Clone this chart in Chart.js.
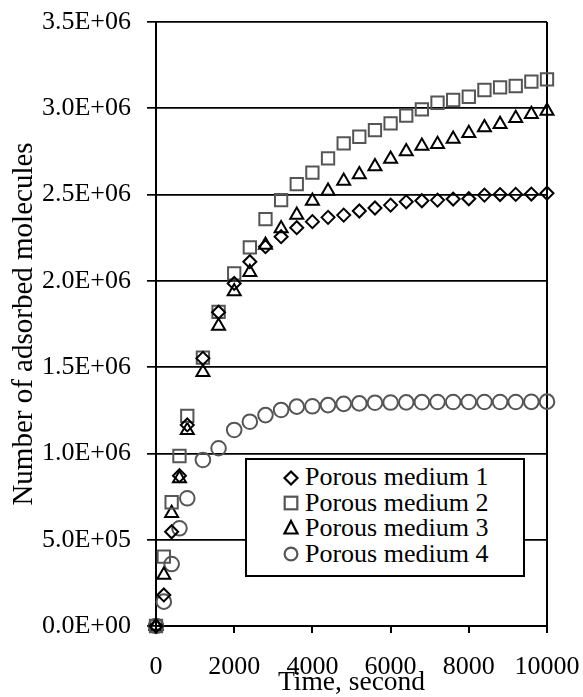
<!DOCTYPE html>
<html>
<head>
<meta charset="utf-8">
<script src="https://cdn.jsdelivr.net/npm/chart.js@4"></script>
<style>
  html, body { margin: 0; padding: 0; background: #fff; }
  #wrap { position: relative; width: 583px; height: 697px; }
  #c { position: absolute; left: 0; top: 0; }
  #legend { position: absolute; left: 245px; top: 458px; width: 280px; height: 119px;
            box-sizing: border-box; border: 2px solid #000; background: #fff; }
  .lg-text { position: absolute; left: 58px; font-family: "Liberation Serif", "Times New Roman", serif;
             font-size: 26px; line-height: 26px; white-space: nowrap; color: #000; }
  .lg-mark { position: absolute; left: 35px; width: 20px; height: 20px; }
</style>
</head>
<body>
<div id="wrap">
  <canvas id="c" width="583" height="697"></canvas>
  <div id="legend"></div>
</div>
<script>
const times = [0, 200, 400, 600, 800, 1200, 1600, 2000, 2400, 2800, 3200, 3600, 4000, 4400, 4800,
  5200, 5600, 6000, 6400, 6800, 7200, 7600, 8000, 8400, 8800, 9200, 9600, 10000];

const medium1 = [0, 1.80e5, 5.46e5, 8.71e5, 1.165e6, 1.551e6, 1.818e6, 1.985e6, 2.111e6, 2.198e6,
  2.256e6, 2.308e6, 2.343e6, 2.368e6, 2.381e6, 2.405e6, 2.422e6, 2.439e6, 2.458e6, 2.464e6,
  2.468e6, 2.474e6, 2.476e6, 2.497e6, 2.500e6, 2.501e6, 2.503e6, 2.508e6];

const medium2 = [0, 4.02e5, 7.17e5, 9.85e5, 1.218e6, 1.555e6, 1.820e6, 2.043e6, 2.194e6, 2.358e6,
  2.468e6, 2.561e6, 2.627e6, 2.710e6, 2.797e6, 2.835e6, 2.874e6, 2.913e6, 2.957e6, 2.994e6,
  3.032e6, 3.048e6, 3.067e6, 3.106e6, 3.121e6, 3.129e6, 3.154e6, 3.168e6];

const medium3 = [0, 2.96e5, 6.53e5, 8.55e5, 1.134e6, 1.470e6, 1.738e6, 1.938e6, 2.050e6, 2.208e6,
  2.304e6, 2.382e6, 2.463e6, 2.521e6, 2.579e6, 2.617e6, 2.662e6, 2.706e6, 2.749e6, 2.781e6,
  2.791e6, 2.822e6, 2.855e6, 2.888e6, 2.907e6, 2.942e6, 2.965e6, 2.984e6];

const medium4 = [0, 1.41e5, 3.59e5, 5.66e5, 7.40e5, 9.62e5, 1.030e6, 1.136e6, 1.184e6, 1.222e6,
  1.252e6, 1.271e6, 1.273e6, 1.280e6, 1.287e6, 1.290e6, 1.294e6, 1.295e6, 1.296e6, 1.297e6,
  1.298e6, 1.298e6, 1.298e6, 1.298e6, 1.298e6, 1.298e6, 1.299e6, 1.300e6];

const seriesNames = ["Porous medium 1", "Porous medium 2", "Porous medium 3", "Porous medium 4"];
const yTickLabels = ["0.0E+00", "5.0E+05", "1.0E+06", "1.5E+06", "2.0E+06", "2.5E+06", "3.0E+06", "3.5E+06"];
const xTickLabels = ["0", "2000", "4000", "6000", "8000", "10000"];

const FONT = '"Liberation Serif", "Times New Roman", serif';
const GRAY = '#555555';
const seriesValues = [medium1, medium2, medium3, medium4];
const styles = [
  { pointStyle: 'rectRot', radius: 6.5, color: '#000000' },
  { pointStyle: 'rect', radius: 8.7, color: GRAY },
  { pointStyle: 'triangle', radius: 7.5, color: '#000000' },
  { pointStyle: 'circle', radius: 7.3, color: GRAY }
];

const datasets = seriesValues.map((vals, i) => ({
  label: seriesNames[i],
  data: times.map((t, j) => ({ x: t, y: vals[j] })),
  showLine: false,
  pointStyle: styles[i].pointStyle,
  pointRadius: styles[i].radius,
  pointHoverRadius: styles[i].radius,
  pointBorderColor: styles[i].color,
  pointBackgroundColor: 'rgba(0,0,0,0)',
  pointBorderWidth: 2,
  clip: false
}));

new Chart(document.getElementById('c'), {
  type: 'scatter',
  data: { datasets },
  options: {
    responsive: false,
    animation: false,
    devicePixelRatio: 1,
    layout: { padding: { left: 0, top: 22, right: 36, bottom: 0 } },
    plugins: { legend: { display: false }, tooltip: { enabled: false } },
    scales: {
      x: {
        type: 'linear', min: 0, max: 10000,
        afterFit: s => { s.height = 71; s.paddingLeft = 0; s.paddingRight = 0; },
        afterBuildTicks: s => { s.ticks = xTickLabels.map(v => ({ value: Number(v) })); },
        ticks: {
          autoSkip: false, maxRotation: 0, padding: 19, color: '#000',
          font: { family: FONT, size: 26, lineHeight: 1.2 },
          callback: (v, i) => xTickLabels[i]
        },
        grid: {
          drawOnChartArea: true,
          color: c => (c.tick && c.tick.value === 10000) ? '#000' : 'rgba(0,0,0,0)',
          lineWidth: 2, tickLength: 7, tickColor: '#000', tickWidth: 2
        },
        border: { display: true, color: '#000', width: 2 },
        title: {
          display: true, text: 'Time, second', color: '#000',
          font: { family: FONT, size: 27.5, lineHeight: 1 },
          padding: { top: 0, bottom: 0 }
        }
      },
      y: {
        type: 'linear', min: 0, max: 3.5e6,
        afterFit: s => { s.width = 156; s.paddingTop = 0; s.paddingBottom = 0; },
        ticks: {
          stepSize: 5e5, padding: 16, color: '#000',
          font: { family: FONT, size: 26, lineHeight: 1.2 },
          callback: (v, i) => yTickLabels[i]
        },
        grid: { color: '#000', lineWidth: 1.7, tickLength: 9, tickColor: '#000', tickWidth: 1.7 },
        border: { display: true, color: '#000', width: 2 },
        title: {
          display: true, text: 'Number of adsorbed molecules', color: '#000',
          font: { family: FONT, size: 29, lineHeight: 1 },
          padding: { top: 9.5, bottom: 0 }
        }
      }
    }
  }
});

// HTML legend built from the series names and marker styles
const legend = document.getElementById('legend');
const boxTop = 458 + 2;   // inner top (after border)
const boxLeft = 245 + 2;
const baselines = [486, 511.3, 536.7, 562.3];
function markerSVG(i) {
  const c = styles[i].color;
  let shape = '';
  if (i === 0) shape = `<polygon points="10,3.5 16.5,10 10,16.5 3.5,10" fill="none" stroke="${c}" stroke-width="2.2"/>`;
  if (i === 1) shape = `<rect x="3.7" y="3.7" width="12.6" height="12.6" fill="none" stroke="${c}" stroke-width="2.2"/>`;
  if (i === 2) shape = `<polygon points="10,3 16.5,15.5 3.5,15.5" fill="none" stroke="${c}" stroke-width="2.2"/>`;
  if (i === 3) shape = `<circle cx="10" cy="10" r="6.4" fill="none" stroke="${c}" stroke-width="2.2"/>`;
  return `<svg class="lg-mark" viewBox="0 0 20 20" width="20" height="20">${shape}</svg>`;
}
seriesNames.forEach((name, i) => {
  const bl = baselines[i];
  const t = document.createElement('div');
  t.className = 'lg-text';
  t.textContent = name;
  t.style.top = (bl - 21.8 - boxTop) + 'px';
  legend.appendChild(t);
  const m = document.createElement('div');
  m.innerHTML = markerSVG(i);
  const svg = m.firstChild;
  svg.style.top = (bl - 8.5 - 10 - boxTop) + 'px';
  svg.style.left = (290.5 - 10 - boxLeft) + 'px';
  legend.appendChild(svg);
});
</script>
</body>
</html>
